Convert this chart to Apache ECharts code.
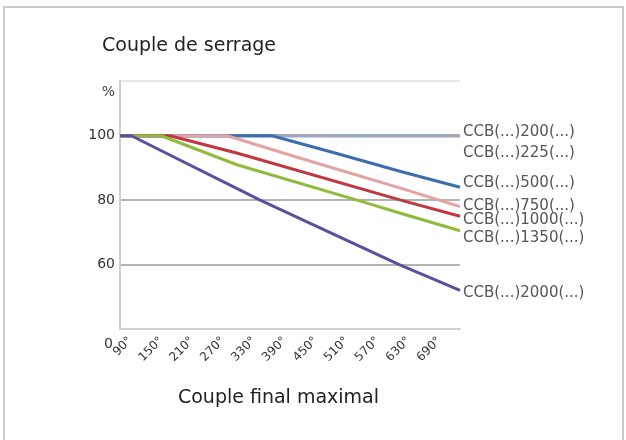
<!DOCTYPE html>
<html>
<head>
<meta charset="utf-8">
<script src="https://cdn.jsdelivr.net/npm/echarts@6/dist/echarts.min.js"></script>
<style>
  html, body { margin: 0; padding: 0; background: #fff; }
  #chart { width: 626px; height: 440px; }
</style>
</head>
<body>
<div id="chart"></div>
<script>
// tick labels
const angleTicks = [90, 150, 210, 270, 330, 390, 450, 510, 570, 630, 690];

// [angle, % of torque]
const ccb200 = [[70, 100], [730, 100]];
const ccb225 = [[70, 100], [730, 100]];
const ccb500 = [[70, 100], [365, 100], [491, 94.5], [613, 89], [730, 84]];
const ccb750 = [[70, 100], [278, 100], [425, 92.8], [613, 83.8], [730, 78]];
const ccb1000 = [[70, 100], [167, 100], [300, 94.5], [615, 80], [730, 75]];
const ccb1350 = [[70, 100], [150, 100], [297, 91], [530, 80], [613, 76], [730, 70.5]];
const ccb2000 = [[70, 100], [92, 100], [342, 80], [612, 60], [730, 52]];

const names = ['CCB(...)200(...)', 'CCB(...)225(...)', 'CCB(...)500(...)', 'CCB(...)750(...)',
  'CCB(...)1000(...)', 'CCB(...)1350(...)', 'CCB(...)2000(...)'];
const colors = ['#3ea3ae', '#a9a3ba', '#3b6eae', '#e3a3a3', '#c1373f', '#8fbb3d', '#5d4f9e'];
const labelDy = [-4, 17, -4, -1, 4, 7.5, 3];
const allData = [ccb200, ccb225, ccb500, ccb750, ccb1000, ccb1350, ccb2000];

const font = 'DejaVu Sans, sans-serif';
const myChart = echarts.init(document.getElementById('chart'));

const option = {
  backgroundColor: '#fff',
  animation: false,
  textStyle: { fontFamily: font },
  title: {
    text: 'Couple de serrage',
    left: 97,
    top: 32,
    textStyle: { fontSize: 19, fontWeight: 'normal', color: '#222', fontFamily: font }
  },
  graphic: [{
    type: 'rect',
    shape: { x: 4, y: 7, width: 619, height: 440 },
    style: { fill: 'none', stroke: '#cacaca', lineWidth: 2 },
    z: -1
  }],
  grid: { left: 120, right: 166, top: 81, bottom: 111 },
  xAxis: {
    type: 'value',
    min: 70,
    max: 730,
    name: 'Couple final maximal',
    nameLocation: 'middle',
    nameGap: 60,
    nameTextStyle: { fontSize: 19, color: '#222', padding: [0, 23, 0, 0] },
    axisLine: { lineStyle: { color: '#cdd1da', width: 2 } },
    axisTick: { show: false },
    splitLine: { show: false },
    axisLabel: {
      customValues: angleTicks,
      rotate: 45,
      margin: 10,
      fontSize: 12,
      color: '#333',
      formatter: v => v + '°'
    }
  },
  yAxis: {
    type: 'value',
    min: 40,
    max: 117,
    interval: 20,
    axisLine: { show: true, lineStyle: { color: '#c9cfdc', width: 2 } },
    axisTick: { show: false },
    splitLine: {
      show: true,
      lineStyle: { color: ['#cdd1da', '#9a9a9a', '#9a9a9a', '#9a9a9a', '#dcdfe6'], width: 1.5 }
    },
    axisLabel: {
      margin: 5,
      fontSize: 14,
      color: '#333',
      formatter: v => {
        if (v === 40) return '{z|0}';
        if (v === 117) return '{p|%}';
        return String(v);
      },
      rich: {
        z: { fontSize: 14, color: '#333', padding: [30, 2, 0, 0] },
        p: { fontSize: 14, color: '#444', padding: [22, 0, 0, 0] }
      }
    }
  },
  series: allData.map((d, i) => ({
    name: names[i],
    type: 'line',
    data: d,
    symbol: 'none',
    lineStyle: { color: colors[i], width: 3 },
    itemStyle: { color: colors[i] },
    endLabel: {
      show: true,
      formatter: names[i],
      distance: 3,
      offset: [0, labelDy[i]],
      fontSize: 15,
      color: '#555',
      fontFamily: font
    }
  }))
};
myChart.setOption(option);
</script>
</body>
</html>
